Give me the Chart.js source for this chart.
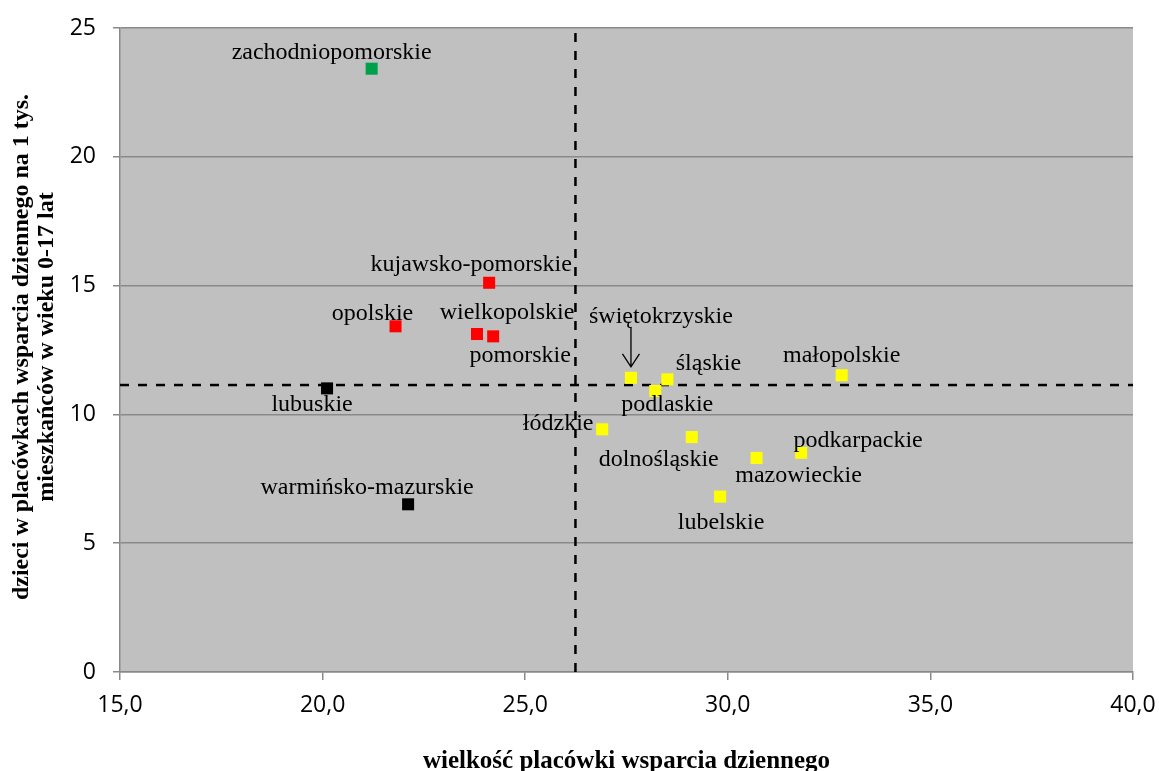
<!DOCTYPE html>
<html>
<head>
<meta charset="utf-8">
<script src="https://cdn.jsdelivr.net/npm/chart.js@4.4.1/dist/chart.umd.min.js"></script>
<style>
html, body { margin:0; padding:0; background:#fff; }
#wrap { width:1159px; height:771px; }
</style>
</head>
<body>
<div id="wrap"><canvas id="chart"></canvas></div>
<script>
// województwa, grouped by marker colour
var greenNames = ['zachodniopomorskie'];
var greenX = [21.21];
var greenY = [23.42];

var redNames = ['kujawsko-pomorskie', 'opolskie', 'wielkopolskie', 'pomorskie'];
var redX = [24.11, 21.80, 23.81, 24.21];
var redY = [15.11, 13.42, 13.12, 13.03];

var blackNames = ['lubuskie', 'warmińsko-mazurskie'];
var blackX = [20.11, 22.11];
var blackY = [11.01, 6.51];

var yellowNames = ['świętokrzyskie', 'śląskie', 'podlaskie', 'małopolskie', 'łódzkie', 'dolnośląskie', 'mazowieckie', 'podkarpackie', 'lubelskie'];
var yellowX = [27.61, 28.51, 28.21, 32.81, 26.90, 29.11, 30.71, 31.81, 29.81];
var yellowY = [11.42, 11.36, 10.91, 11.52, 9.42, 9.12, 8.31, 8.51, 6.81];

// dashed average lines
var avgX = 26.24;
var avgY = 11.14;

var xRange = [15, 40];
var yRange = [0, 25];
var tickStep = 5;

var xTitle = 'wielkość placówki wsparcia dziennego';
var yTitle = ['dzieci w placówkach wsparcia dziennego na 1 tys.', 'mieszkańców w wieku 0-17 lat'];

// where each name sits relative to its marker (pixels, text centre / baseline)
var labelOffset = {
  'zachodniopomorskie': [-40, -10],
  'kujawsko-pomorskie': [-18, -12],
  'opolskie': [-23, -6],
  'wielkopolskie': [30, -15],
  'pomorskie': [27, 26],
  'lubuskie': [-15, 23],
  'warmińsko-mazurskie': [-41, -10],
  'świętokrzyskie': [30, -55],
  'śląskie': [41, -9],
  'podlaskie': [12, 20],
  'małopolskie': [0, -13],
  'łódzkie': [-44, 1],
  'dolnośląskie': [-33, 29],
  'mazowieckie': [42, 24],
  'podkarpackie': [57, -6],
  'lubelskie': [1, 32]
};

var gridColor = '#898989';
var serif = '"Liberation Serif", "Times New Roman", serif';

function toPoints(xs, ys){
  return xs.map(function(x, i){ return {x: x, y: ys[i]}; });
}

function pointSet(label, names, xs, ys, color){
  return {
    type: 'scatter',
    label: label,
    names: names,
    data: toPoints(xs, ys),
    backgroundColor: color,
    borderColor: color,
    borderWidth: 0,
    pointStyle: 'rect',
    pointRadius: 8.5,
    pointHoverRadius: 8.5,
    order: 1
  };
}

function dashSet(points){
  return {
    type: 'line',
    data: points,
    borderColor: '#000',
    borderWidth: 2.5,
    borderDash: [9, 9],
    pointRadius: 0,
    fill: false,
    order: 2
  };
}

var plotBg = {
  id: 'plotBg',
  beforeDraw: function(chart){
    var a = chart.chartArea, ctx = chart.ctx;
    ctx.save();
    ctx.fillStyle = '#C0C0C0';
    ctx.fillRect(a.left, a.top, a.right - a.left, a.bottom - a.top);
    ctx.restore();
  }
};

var pointLabels = {
  id: 'pointLabels',
  afterDatasetsDraw: function(chart){
    var ctx = chart.ctx;
    ctx.save();
    ctx.font = '24px ' + serif;
    ctx.fillStyle = '#000';
    ctx.textAlign = 'center';
    ctx.textBaseline = 'alphabetic';
    chart.data.datasets.forEach(function(ds, i){
      if(!ds.names) return;
      var meta = chart.getDatasetMeta(i);
      meta.data.forEach(function(el, j){
        var name = ds.names[j];
        var off = labelOffset[name] || [0, -14];
        ctx.fillText(name, el.x + off[0], el.y + off[1]);
        if(name == 'świętokrzyskie'){
          // arrow from label down to marker
          ctx.strokeStyle = '#000';
          ctx.lineWidth = 1.3;
          ctx.beginPath();
          ctx.moveTo(el.x, el.y - 50);
          ctx.lineTo(el.x, el.y - 11);
          ctx.moveTo(el.x - 8.5, el.y - 24);
          ctx.lineTo(el.x, el.y - 11);
          ctx.lineTo(el.x + 8.5, el.y - 24);
          ctx.stroke();
        }
      });
    });
    ctx.restore();
  }
};

var axisTitles = {
  id: 'axisTitles',
  afterDraw: function(chart){
    var ctx = chart.ctx, a = chart.chartArea;
    ctx.save();
    ctx.fillStyle = '#000';
    ctx.textAlign = 'center';
    ctx.textBaseline = 'middle';
    ctx.font = 'bold 25px ' + serif;
    ctx.fillText(xTitle, (a.left + a.right) / 2, 762);
    ctx.font = 'bold 24px ' + serif;
    ctx.translate(0, 347);
    ctx.rotate(-Math.PI / 2);
    ctx.fillText(yTitle[0], 0, 22);
    ctx.fillText(yTitle[1], 0, 47);
    ctx.restore();
  }
};

var chart = new Chart(document.getElementById('chart'), {
  type: 'scatter',
  data: {
    datasets: [
      pointSet('zielone', greenNames, greenX, greenY, '#00A04A'),
      pointSet('czerwone', redNames, redX, redY, '#FF0000'),
      pointSet('czarne', blackNames, blackX, blackY, '#000000'),
      pointSet('żółte', yellowNames, yellowX, yellowY, '#FFFF00'),
      dashSet([{x: avgX, y: yRange[0]}, {x: avgX, y: yRange[1]}]),
      dashSet([{x: xRange[0], y: avgY}, {x: xRange[1], y: avgY}])
    ]
  },
  options: {
    animation: false,
    responsive: true,
    maintainAspectRatio: false,
    layout: { padding: { top: 28, right: 26, left: 0, bottom: 0 } },
    plugins: {
      legend: { display: false },
      tooltip: { enabled: false }
    },
    scales: {
      x: {
        type: 'linear',
        min: xRange[0],
        max: xRange[1],
        afterFit: function(scale){
          scale.height = 99;
          scale.paddingLeft = 0;
          scale.paddingRight = 0;
        },
        ticks: {
          stepSize: tickStep,
          autoSkip: false,
          maxRotation: 0,
          padding: 12,
          color: '#000',
          font: { family: '"Open Sans"', size: 23 },
          callback: function(v){ return v.toFixed(1).replace('.', ','); }
        },
        grid: { drawOnChartArea: false, drawTicks: true, tickLength: 8, color: gridColor, lineWidth: 1.5 },
        border: { display: true, color: gridColor, width: 1.5 }
      },
      y: {
        type: 'linear',
        min: yRange[0],
        max: yRange[1],
        afterFit: function(scale){
          scale.width = 120;
          scale.paddingTop = 0;
          scale.paddingBottom = 0;
        },
        ticks: {
          stepSize: tickStep,
          padding: 17,
          color: '#000',
          font: { family: '"Open Sans"', size: 23 }
        },
        grid: { color: gridColor, lineWidth: 1.5, tickLength: 7 },
        border: { display: true, color: gridColor, width: 1.5 }
      }
    }
  },
  plugins: [plotBg, pointLabels, axisTitles]
});
</script>
</body>
</html>
